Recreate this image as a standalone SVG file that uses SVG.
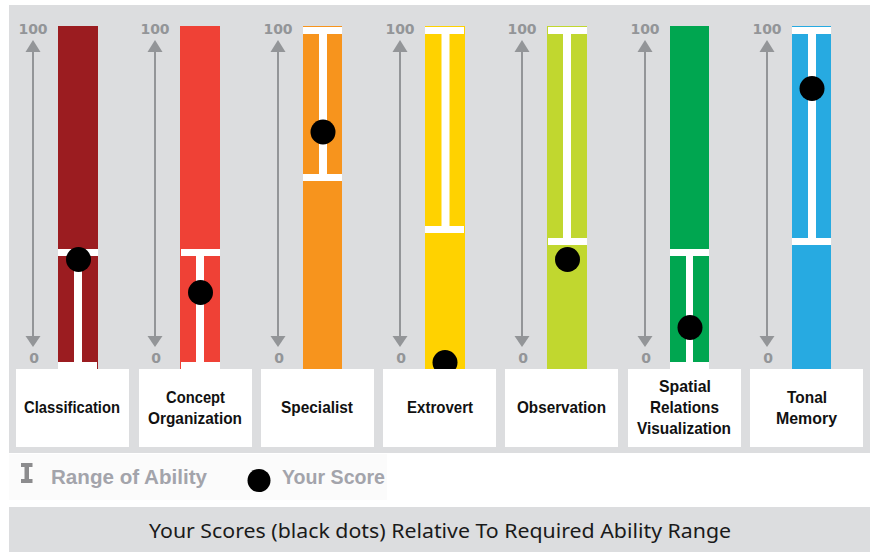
<svg xmlns="http://www.w3.org/2000/svg" width="874" height="552" viewBox="0 0 874 552">
<style>
.panel{fill:#dcdddf}
.axis{stroke:#939598;stroke-width:2;fill:none}
.ahead{fill:#939598}
.tick{font-family:"DejaVu Sans",sans-serif;font-weight:bold;font-size:14px;fill:#939598;text-anchor:middle}
.rng{fill:#ffffff}
.dot{fill:#000000}
.box{fill:#ffffff}
.lbl{font-family:"Liberation Sans",Arial,sans-serif;font-weight:bold;font-size:17px;fill:#111111;text-anchor:middle}
.leg{font-family:"Liberation Sans",Arial,sans-serif;font-weight:bold;font-size:20px;fill:#a3a4ab}
.foot{font-family:"Noto Sans","Open Sans",sans-serif;font-size:20px;fill:#1a1a1a;text-anchor:middle}
</style>
<defs>
<g id="axis">
<line class="axis" x1="0" y1="50" x2="0" y2="339"/>
<polygon class="ahead" points="0,40 -7.5,52 7.5,52"/>
<polygon class="ahead" points="0,347 -7.5,336 7.5,336"/>
<text class="tick" x="0" y="34">100</text>
<text class="tick" x="1" y="363">0</text>
</g>
</defs>
<rect class="panel" x="9" y="5" width="861" height="448"/>
<rect x="9" y="454" width="378" height="46" fill="#fbfbfb"/>
<rect class="panel" x="9" y="507" width="861" height="45"/>

<g id="connectors"></g>

<g id="classification">
<use href="#axis" x="33" y="0"/>
<rect x="58" y="26" width="40" height="343" fill="#9b1c20"/>
<rect class="rng" x="58" y="249" width="40" height="7"/>
<rect class="rng" x="74" y="256" width="8" height="106"/>
<rect class="rng" x="58" y="362" width="39" height="7"/>
<circle class="dot" cx="78.5" cy="259.5" r="12.5"/>
<rect class="box" x="16" y="369" width="113" height="78"/>
<text class="lbl" x="72" y="413" textLength="96" lengthAdjust="spacingAndGlyphs">Classification</text>
</g>

<g id="concept-organization">
<use href="#axis" x="155" y="0"/>
<rect x="180" y="26" width="40" height="343" fill="#ef4136"/>
<rect class="rng" x="181" y="249" width="39" height="7"/>
<rect class="rng" x="196" y="256" width="8" height="106"/>
<rect class="rng" x="181" y="362" width="39" height="7"/>
<circle class="dot" cx="200.5" cy="292.5" r="12.5"/>
<rect class="box" x="139" y="369" width="113" height="78"/>
<text class="lbl" x="195.5" y="403" textLength="59" lengthAdjust="spacingAndGlyphs">Concept</text>
<text class="lbl" x="195" y="424" textLength="94" lengthAdjust="spacingAndGlyphs">Organization</text>
</g>

<g id="specialist">
<use href="#axis" x="278" y="0"/>
<rect x="303" y="26" width="39" height="343" fill="#f7941d"/>
<rect class="rng" x="303" y="27" width="39" height="7"/>
<rect class="rng" x="319" y="34" width="8" height="140"/>
<rect class="rng" x="303" y="174" width="39" height="7"/>
<circle class="dot" cx="323" cy="132" r="12.5"/>
<rect class="box" x="261" y="369" width="113" height="78"/>
<text class="lbl" x="317" y="413" textLength="72" lengthAdjust="spacingAndGlyphs">Specialist</text>
</g>

<g id="extrovert">
<use href="#axis" x="400" y="0"/>
<rect x="425" y="26" width="40" height="343" fill="#ffd200"/>
<rect class="rng" x="425" y="27" width="39" height="7"/>
<rect class="rng" x="441.5" y="34" width="8" height="192"/>
<rect class="rng" x="425" y="226" width="39" height="7"/>
<circle class="dot" cx="445" cy="362.5" r="12.5"/>
<rect class="box" x="383" y="369" width="113" height="78"/>
<text class="lbl" x="440" y="413" textLength="66" lengthAdjust="spacingAndGlyphs">Extrovert</text>
</g>

<g id="observation">
<use href="#axis" x="522" y="0"/>
<rect x="547" y="26" width="40" height="343" fill="#c1d72f"/>
<rect class="rng" x="548" y="27" width="39" height="7"/>
<rect class="rng" x="563" y="34" width="8" height="204"/>
<rect class="rng" x="548" y="238" width="39" height="7"/>
<circle class="dot" cx="567.5" cy="259.5" r="12.5"/>
<rect class="box" x="505" y="369" width="113" height="78"/>
<text class="lbl" x="561.5" y="413" textLength="89" lengthAdjust="spacingAndGlyphs">Observation</text>
</g>

<g id="spatial-relations-visualization">
<use href="#axis" x="645" y="0"/>
<rect x="670" y="26" width="39" height="343" fill="#00a650"/>
<rect class="rng" x="670" y="249" width="39" height="7"/>
<rect class="rng" x="686" y="256" width="7" height="106"/>
<rect class="rng" x="670" y="362" width="39" height="7"/>
<circle class="dot" cx="690" cy="327.5" r="12.5"/>
<rect class="box" x="628" y="369" width="113" height="78"/>
<text class="lbl" x="685" y="392" textLength="52" lengthAdjust="spacingAndGlyphs">Spatial</text>
<text class="lbl" x="684.5" y="413" textLength="69" lengthAdjust="spacingAndGlyphs">Relations</text>
<text class="lbl" x="684" y="434" textLength="94" lengthAdjust="spacingAndGlyphs">Visualization</text>
</g>

<g id="tonal-memory">
<use href="#axis" x="767" y="0"/>
<rect x="792" y="26" width="39" height="343" fill="#27aae1"/>
<rect class="rng" x="792" y="27" width="39" height="7"/>
<rect class="rng" x="808" y="34" width="8" height="204"/>
<rect class="rng" x="792" y="238" width="39" height="7"/>
<circle class="dot" cx="812" cy="88.5" r="12.5"/>
<rect class="box" x="750" y="369" width="113" height="78"/>
<text class="lbl" x="807" y="403" textLength="40" lengthAdjust="spacingAndGlyphs">Tonal</text>
<text class="lbl" x="806.5" y="424" textLength="61" lengthAdjust="spacingAndGlyphs">Memory</text>
</g>

<g id="legend">
<rect x="21" y="463" width="11.5" height="4" fill="#8c8c8e"/>
<rect x="24.5" y="466" width="4.5" height="14" fill="#8c8c8e"/>
<rect x="21" y="479" width="11.5" height="4" fill="#8c8c8e"/>
<text class="leg" x="51" y="484" textLength="156" lengthAdjust="spacingAndGlyphs">Range of Ability</text>
<circle class="dot" cx="259" cy="480.5" r="11.5"/>
<text class="leg" x="282" y="484" textLength="103" lengthAdjust="spacingAndGlyphs">Your Score</text>
</g>

<g id="footer">
<text class="foot" x="440" y="538" textLength="582" lengthAdjust="spacingAndGlyphs">Your Scores (black dots) Relative To Required Ability Range</text>
</g>
</svg>
